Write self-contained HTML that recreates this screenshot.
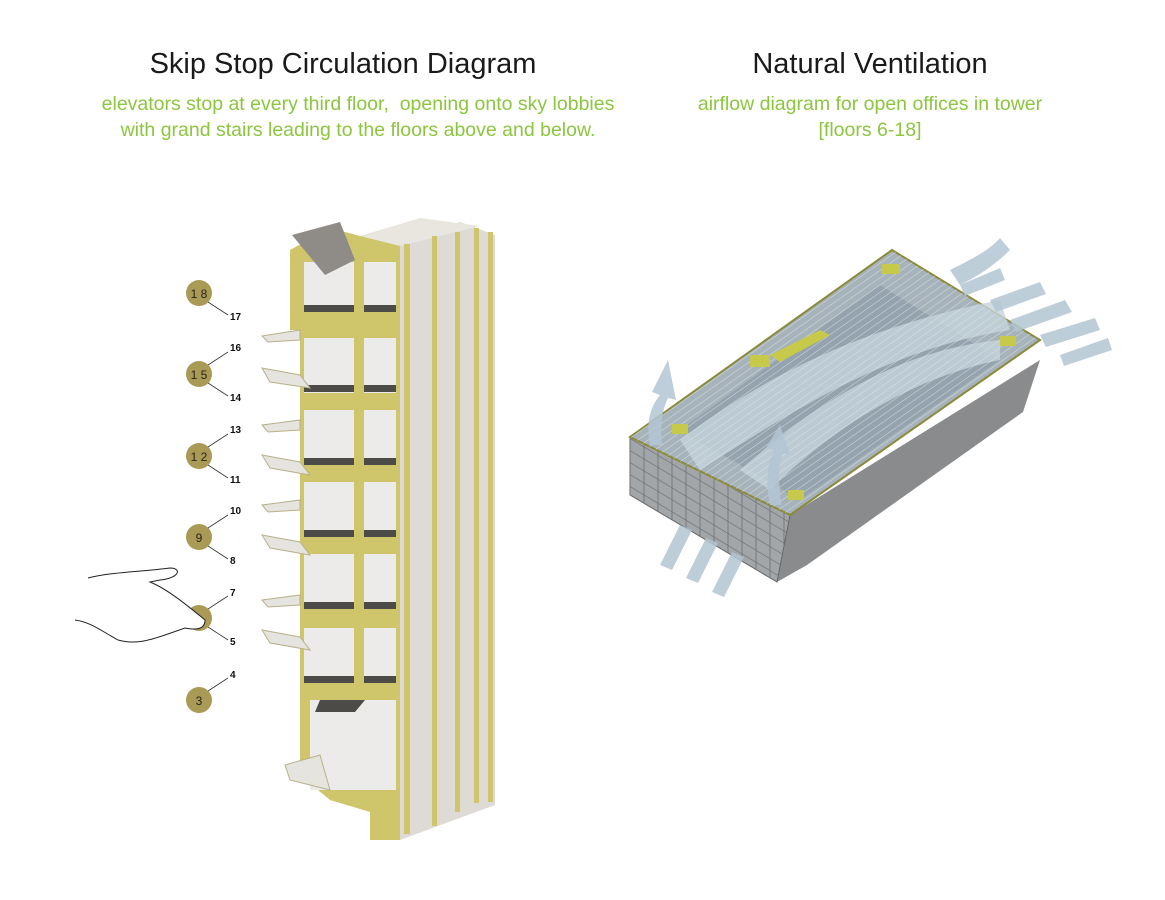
<!DOCTYPE html>
<html><head><meta charset="utf-8"><style>
html,body{margin:0;padding:0;background:#fff;}
body{width:1165px;height:900px;position:relative;overflow:hidden;font-family:"Liberation Sans",sans-serif;}
.t{position:absolute;text-align:center;white-space:nowrap;}
.h{font-size:29px;color:#1a1a1a;}
.s{font-size:19.5px;color:#8cc63f;line-height:26px;}
</style></head><body>
<div class="t h" style="left:93px;width:500px;top:48px;">Skip Stop Circulation Diagram</div>
<div class="t s" style="left:33px;width:650px;top:91px;">elevators stop at every third floor,&nbsp; opening onto sky lobbies<br>with grand stairs leading to the floors above and below.</div>
<div class="t h" style="left:670px;width:400px;top:48px;">Natural Ventilation</div>
<div class="t s" style="left:610px;width:520px;top:91px;">airflow diagram for open offices in tower<br>[floors 6-18]</div>
<svg width="1165" height="900" style="position:absolute;left:0;top:0">
<defs>
<pattern id="hat" width="8" height="6" patternUnits="userSpaceOnUse" patternTransform="rotate(-35)"><line x1="0" y1="0" x2="8" y2="0" stroke="#e4e8ea" stroke-width="0.8"/></pattern>
<pattern id="grid" width="14" height="12" patternUnits="userSpaceOnUse" patternTransform="skewY(31)"><rect width="14" height="12" fill="none" stroke="#6f7275" stroke-width="0.8"/></pattern>
</defs>
<!-- tower -->
<polygon points="290,250 330,228 360,236 400,238 400,840 370,840 370,812 330,800 300,775 300,330 290,330" fill="#cfc56a"/>
<polygon points="400,238 460,222 495,235 495,805 400,840" fill="#dedad6"/>
<polygon points="360,236 420,218 480,226 400,246" fill="#e8e6df"/>
<g fill="#cfc56a"><rect x="404" y="244" width="6" height="590"/><rect x="432" y="236" width="5" height="590"/><rect x="455" y="232" width="5" height="580"/><rect x="474" y="228" width="5" height="575"/><rect x="488" y="232" width="5" height="570"/></g>
<g fill="#ecebea">
<rect x="304" y="262" width="50" height="48"/><rect x="364" y="262" width="32" height="48"/>
<rect x="304" y="338" width="50" height="55"/><rect x="364" y="338" width="32" height="55"/>
<rect x="304" y="410" width="50" height="55"/><rect x="364" y="410" width="32" height="55"/>
<rect x="304" y="482" width="50" height="55"/><rect x="364" y="482" width="32" height="55"/>
<rect x="304" y="554" width="50" height="55"/><rect x="364" y="554" width="32" height="55"/>
<rect x="304" y="628" width="50" height="55"/><rect x="364" y="628" width="32" height="55"/>
<rect x="310" y="700" width="86" height="90"/>
</g>
<g fill="#4d4b48">
<rect x="304" y="305" width="50" height="7"/><rect x="364" y="305" width="32" height="7"/>
<rect x="304" y="385" width="50" height="7"/><rect x="364" y="385" width="32" height="7"/>
<rect x="304" y="458" width="50" height="7"/><rect x="364" y="458" width="32" height="7"/>
<rect x="304" y="530" width="50" height="7"/><rect x="364" y="530" width="32" height="7"/>
<rect x="304" y="602" width="50" height="7"/><rect x="364" y="602" width="32" height="7"/>
<rect x="304" y="676" width="50" height="7"/><rect x="364" y="676" width="32" height="7"/>
<polygon points="320,700 365,700 355,712 315,712"/>
</g>
<polygon points="292,235 340,222 355,260 325,275" fill="#8f8c88"/>
<g fill="#e6e4df" stroke="#b8b08a" stroke-width="1">
<polygon points="262,336 300,330 300,340 268,342"/><polygon points="262,368 300,375 310,388 270,382"/>
<polygon points="262,425 300,420 300,430 268,432"/><polygon points="262,455 300,462 310,475 270,468"/>
<polygon points="262,505 300,500 300,510 268,512"/><polygon points="262,535 300,542 310,555 270,548"/>
<polygon points="262,600 300,595 300,605 268,607"/><polygon points="262,630 300,637 310,650 270,643"/>
<polygon points="285,765 320,755 330,790 290,780"/>
</g>
<!-- circles -->
<g fill="#a99a55">
<circle cx="199" cy="293" r="13"/><circle cx="199" cy="374" r="13"/><circle cx="199" cy="456" r="13"/>
<circle cx="199" cy="537" r="13"/><circle cx="199" cy="618" r="13"/><circle cx="199" cy="700" r="13"/>
</g>
<g font-size="12" fill="#2a2418" text-anchor="middle" font-family="Liberation Sans Narrow,Liberation Sans,sans-serif">
<text x="199" y="298">1 8</text><text x="199" y="379">1 5</text><text x="199" y="461">1 2</text><text x="199" y="542">9</text><text x="199" y="705">3</text>
</g>
<g stroke="#333" stroke-width="0.8">
<line x1="208" y1="302" x2="228" y2="315"/><line x1="208" y1="365" x2="228" y2="352"/><line x1="208" y1="383" x2="228" y2="396"/>
<line x1="208" y1="447" x2="228" y2="434"/><line x1="208" y1="465" x2="228" y2="478"/><line x1="208" y1="528" x2="228" y2="515"/>
<line x1="208" y1="546" x2="228" y2="559"/><line x1="208" y1="609" x2="228" y2="596"/><line x1="208" y1="627" x2="228" y2="640"/><line x1="208" y1="691" x2="228" y2="678"/>
</g>
<g font-size="10" font-weight="bold" fill="#111">
<text x="230" y="320">17</text><text x="230" y="351">16</text><text x="230" y="401">14</text><text x="230" y="433">13</text><text x="230" y="483">11</text>
<text x="230" y="514">10</text><text x="230" y="564">8</text><text x="230" y="596">7</text><text x="230" y="645">5</text><text x="230" y="678">4</text>
</g>
<path d="M88,578 C110,572 140,572 170,568 C182,568 180,578 160,580 L150,582 C170,590 195,612 205,620 C205,630 195,630 185,628 L165,635 C150,640 135,645 118,640 C100,630 90,622 75,620" fill="#fff" stroke="#222" stroke-width="1"/>
<!-- ventilation -->
<polygon points="630,437 630,495 777,582 807,565 1023,412 1040,360 790,515" fill="#8a8b8d"/>
<polygon points="630,437 630,495 777,582 790,515" fill="#a3a6a9" stroke="#666" stroke-width="1"/>
<polygon points="630,437 630,495 777,582 790,515" fill="url(#grid)"/>
<polygon points="630,437 892,250 1040,340 790,515" fill="#a7b3bb" stroke="#8a8a3a" stroke-width="2"/>
<polygon points="680,430 880,285 1000,360 800,500" fill="#95a3ae"/>
<path d="M680,440 C760,380 850,330 1000,300 L1010,330 C880,350 780,420 700,470Z" fill="#c6d3dc" opacity="0.8"/>
<path d="M740,470 C820,400 900,350 1000,340 L1000,360 C900,380 820,440 770,490Z" fill="#c6d3dc" opacity="0.8"/>
<polygon points="630,437 892,250 1040,340 790,515" fill="url(#hat)"/>
<g fill="#c6c94a"><rect x="750" y="355" width="20" height="12"/><polygon points="770,355 820,330 830,335 780,362"/><rect x="672" y="424" width="16" height="10"/><rect x="788" y="490" width="16" height="10"/><rect x="1000" y="336" width="16" height="10"/><rect x="882" y="264" width="18" height="10"/></g>
<g fill="#b3c6d3" opacity="0.85">
<path d="M650,445 C645,420 652,405 660,395 L652,392 L668,360 L676,400 L668,398 C662,410 660,425 662,445Z"/>
<path d="M770,505 C765,480 768,460 775,450 L766,448 L780,425 L790,455 L783,453 C778,465 778,485 782,505Z"/>
<polygon points="660,565 680,525 692,530 672,570"/><polygon points="686,578 706,538 718,543 698,583"/><polygon points="712,592 732,552 744,557 724,597"/>
<polygon points="960,285 1000,268 1005,280 965,296"/><polygon points="990,300 1040,282 1046,294 996,312"/><polygon points="1010,320 1065,300 1072,312 1016,332"/><polygon points="1040,335 1095,318 1100,330 1046,347"/><polygon points="1060,355 1108,338 1112,350 1064,366"/>
<path d="M950,270 C970,260 990,250 1000,238 L1010,250 C995,265 975,278 960,285Z"/>
</g>
</svg>
</body></html>
